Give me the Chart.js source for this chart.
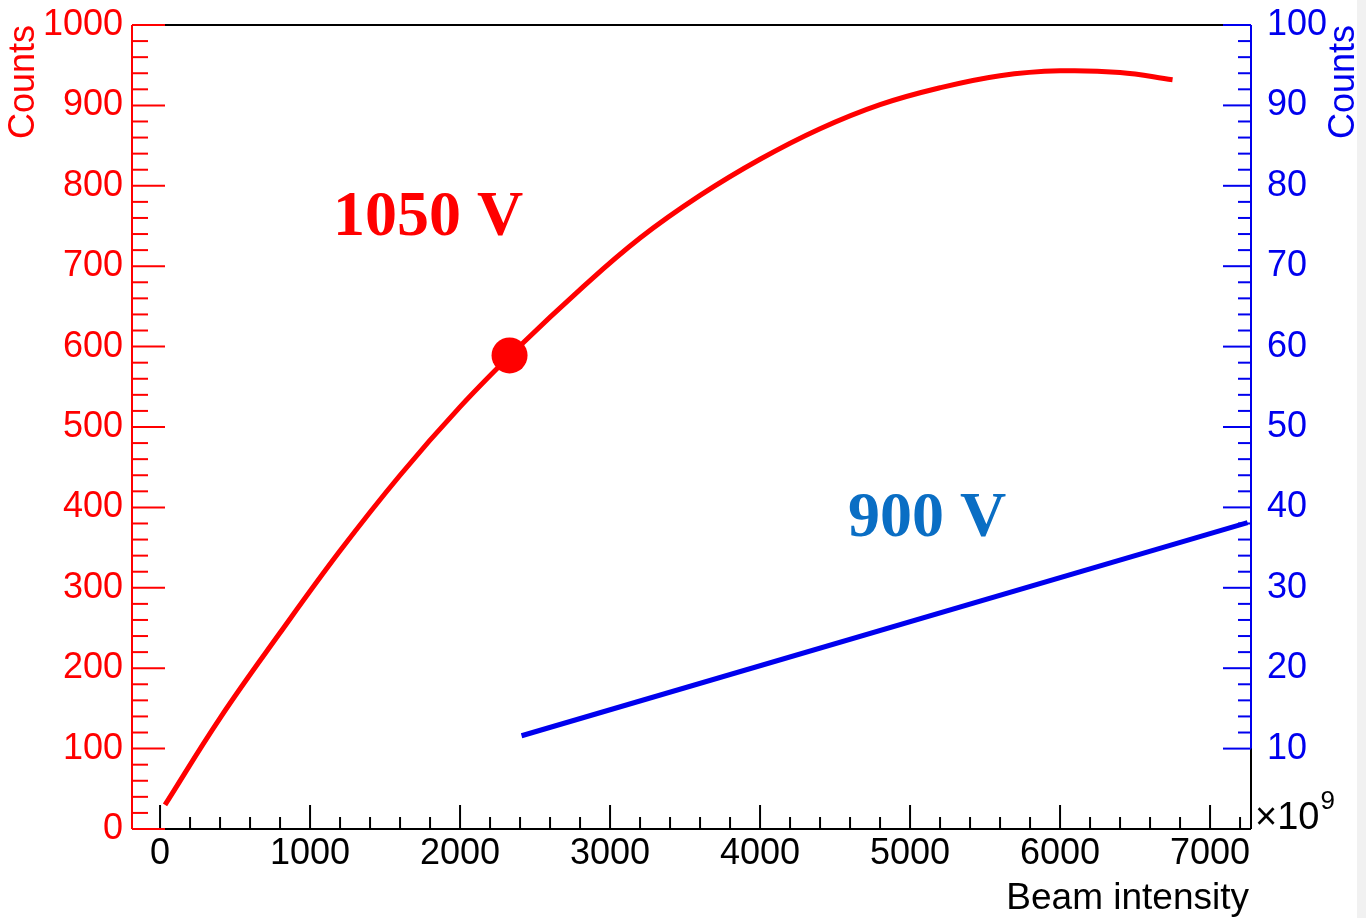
<!DOCTYPE html>
<html>
<head>
<meta charset="utf-8">
<script src="https://cdn.jsdelivr.net/npm/chart.js@4/dist/chart.umd.min.js"></script>
<style>
  html, body { margin: 0; padding: 0; background: #fff; }
  #wrap { width: 1366px; height: 918px; }
</style>
</head>
<body>
<div id="wrap"><canvas id="beamchart" width="1366" height="918"></canvas></div>
<script>
// tick labels
var xTicks = [0, 1000, 2000, 3000, 4000, 5000, 6000, 7000];
var leftTicks = [0, 100, 200, 300, 400, 500, 600, 700, 800, 900, 1000];
var rightTicks = [10, 20, 30, 40, 50, 60, 70, 80, 90, 100];

// 1050 V curve (left axis)
var redX = [33, 400, 800, 1200, 1600, 2000, 2400, 2800, 3200, 3600, 4000, 4400, 4800, 5200, 5600, 6000, 6400, 6750];
var redY = [30, 138, 244, 346, 440, 525, 601, 671, 735, 788, 833, 871, 901, 922, 937, 943, 941, 932];

// marked point on the 1050 V curve
var markX = [2330];
var markY = [589];

// 900 V line (right axis)
var blueX = [2410, 7250];
var blueY = [11.6, 38.1];

var RED = '#ff0000';
var BLUE = '#0000ee';
var FONT = "'Liberation Sans', Arial, sans-serif";

function pts(xs, ys) {
    var out = [];
    for (var i = 0; i < xs.length; i++) out.push({x: xs[i], y: ys[i]});
    return out;
}

function seg(ctx, x1, y1, x2, y2) {
    ctx.beginPath();
    ctx.moveTo(x1, y1);
    ctx.lineTo(x2, y2);
    ctx.stroke();
}

// ROOT style frame: ticks drawn inwards
var frame = {
    id: 'frame',
    beforeDraw: function(chart) {
        var ctx = chart.ctx;
        ctx.save();
        ctx.fillStyle = '#fff';
        ctx.fillRect(0, 0, chart.width, chart.height);
        ctx.fillStyle = '#f1f1f1';
        ctx.fillRect(1357, 0, 9, chart.height);
        ctx.restore();
    },
    beforeDatasetsDraw: function(chart) {
        var ctx = chart.ctx, a = chart.chartArea;
        var x = chart.scales.x, y = chart.scales.y, y2 = chart.scales.y2;
        var v, p, len;
        ctx.save();
        ctx.lineWidth = 2;
        ctx.lineCap = 'butt';

        ctx.strokeStyle = '#000';
        seg(ctx, a.left, a.top, a.right, a.top);
        seg(ctx, a.right, a.top, a.right, a.bottom);
        seg(ctx, a.left, a.bottom, a.right, a.bottom);
        for (v = 0; v <= x.max; v += 200) {
            p = x.getPixelForValue(v);
            len = (v % 1000 === 0) ? 24 : 12;
            seg(ctx, p, a.bottom, p, a.bottom - len);
        }

        ctx.strokeStyle = RED;
        seg(ctx, a.left, a.top, a.left, a.bottom);
        for (v = 0; v <= 1000; v += 20) {
            p = y.getPixelForValue(v);
            len = (v % 100 === 0) ? 33 : 16;
            seg(ctx, a.left, p, a.left + len, p);
        }

        ctx.strokeStyle = BLUE;
        seg(ctx, a.right, y2.getPixelForValue(100), a.right, y2.getPixelForValue(10));
        for (v = 10; v <= 100; v += 2) {
            p = y2.getPixelForValue(v);
            len = (v % 10 === 0) ? 28 : 13;
            seg(ctx, a.right - len, p, a.right, p);
        }
        ctx.restore();
    },
    afterDraw: function(chart) {
        var ctx = chart.ctx, a = chart.chartArea;
        var x = chart.scales.x, y = chart.scales.y;
        ctx.save();

        // axis titles
        ctx.font = '36px ' + FONT;
        ctx.textBaseline = 'middle';
        ctx.textAlign = 'right';
        ctx.fillStyle = RED;
        ctx.save();
        ctx.translate(24, a.top);
        ctx.rotate(-Math.PI / 2);
        ctx.fillText('Counts', 0, 0);
        ctx.restore();
        ctx.fillStyle = BLUE;
        ctx.save();
        ctx.translate(1344, a.top);
        ctx.rotate(-Math.PI / 2);
        ctx.fillText('Counts', 0, 0);
        ctx.restore();

        ctx.fillStyle = '#000';
        ctx.textBaseline = 'alphabetic';
        ctx.textAlign = 'right';
        ctx.font = '37px ' + FONT;
        ctx.fillText('Beam intensity', a.right - 2, 909);

        ctx.textAlign = 'left';
        ctx.font = '38px ' + FONT;
        ctx.fillText('\u00d710', a.right + 4, a.bottom);
        var w = ctx.measureText('\u00d710').width;
        ctx.font = '26px ' + FONT;
        ctx.fillText('9', a.right + 5 + w, a.bottom - 20);

        // voltage labels
        ctx.font = "bold 64px 'Liberation Serif', 'Times New Roman', serif";
        ctx.fillStyle = RED;
        ctx.fillText('1050 V', x.getPixelForValue(1153), y.getPixelForValue(739));
        ctx.fillStyle = '#0a6ec4';
        ctx.fillText('900 V', x.getPixelForValue(4587), y.getPixelForValue(364));
        ctx.restore();
    }
};

function noPadY(s, w) {
    s.width = w;
    s.paddingTop = 0;
    s.paddingBottom = 0;
}

var ctx = document.getElementById('beamchart');
var chart = new Chart(ctx, {
    type: 'line',
    data: {
        datasets: [{
            label: '1050 V',
            data: pts(redX, redY),
            yAxisID: 'y',
            borderColor: RED,
            borderWidth: 5,
            pointRadius: 0,
            tension: 0.4,
            fill: false
        }, {
            label: 'point',
            data: pts(markX, markY),
            yAxisID: 'y',
            showLine: false,
            pointRadius: 18,
            pointBackgroundColor: RED,
            pointBorderColor: RED,
            pointBorderWidth: 0
        }, {
            label: '900 V',
            data: pts(blueX, blueY),
            yAxisID: 'y2',
            borderColor: BLUE,
            borderWidth: 5,
            pointRadius: 0,
            tension: 0,
            fill: false
        }]
    },
    options: {
        responsive: false,
        animation: false,
        events: [],
        layout: { padding: { top: 25, left: 0, right: 0, bottom: 0 } },
        plugins: {
            legend: { display: false },
            tooltip: { enabled: false }
        },
        scales: {
            x: {
                type: 'linear',
                min: -187,
                max: 7273,
                grid: { display: false, drawTicks: false },
                border: { display: false },
                afterBuildTicks: function(s) { s.ticks = xTicks.map(function(v) { return {value: v}; }); },
                afterFit: function(s) { s.height = 89; s.paddingLeft = 0; s.paddingRight = 0; },
                ticks: {
                    color: '#000',
                    padding: 3,
                    maxRotation: 0,
                    autoSkip: false,
                    font: { family: FONT, size: 36 },
                    callback: function(v) { return String(v); }
                }
            },
            y: {
                type: 'linear',
                position: 'left',
                min: 0,
                max: 1000,
                grid: { display: false, drawTicks: false },
                border: { display: false },
                afterBuildTicks: function(s) { s.ticks = leftTicks.map(function(v) { return {value: v}; }); },
                afterFit: function(s) { noPadY(s, 132); },
                ticks: {
                    color: RED,
                    padding: 9,
                    autoSkip: false,
                    font: { family: FONT, size: 36 },
                    callback: function(v) { return String(v); }
                }
            },
            y2: {
                type: 'linear',
                position: 'right',
                min: 0,
                max: 100,
                grid: { display: false, drawTicks: false },
                border: { display: false },
                afterBuildTicks: function(s) { s.ticks = rightTicks.map(function(v) { return {value: v}; }); },
                afterFit: function(s) { noPadY(s, 115); },
                ticks: {
                    color: BLUE,
                    padding: 16,
                    autoSkip: false,
                    font: { family: FONT, size: 36 },
                    callback: function(v) { return String(v); }
                }
            }
        }
    },
    plugins: [frame]
});
</script>
</body>
</html>
